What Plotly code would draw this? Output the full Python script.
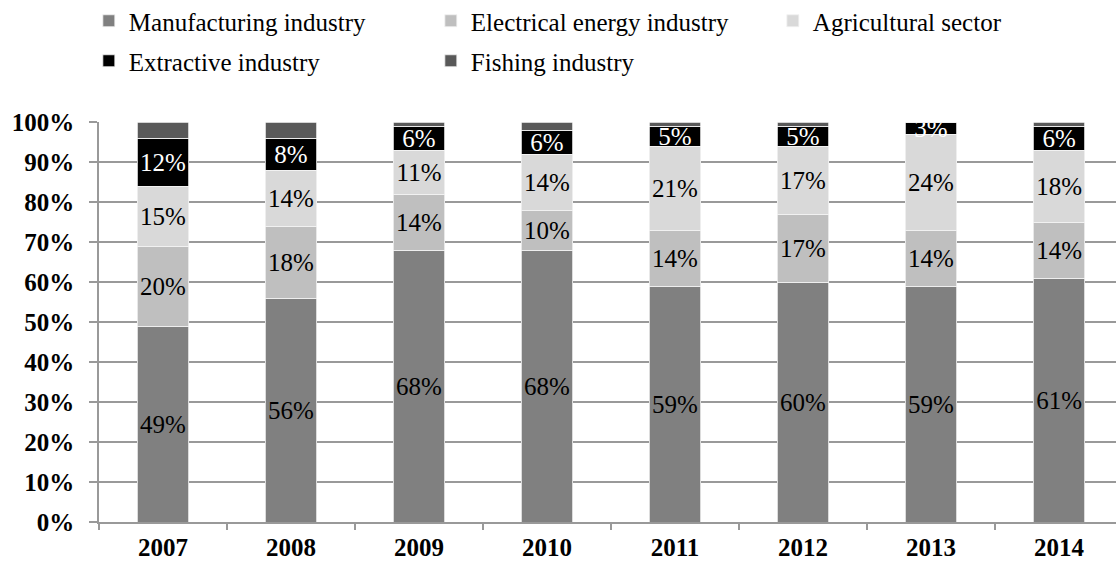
import plotly.graph_objects as go

years = ["2007", "2008", "2009", "2010", "2011", "2012", "2013", "2014"]
manufacturing = [49, 56, 68, 68, 59, 60, 59, 61]
electrical = [20, 18, 14, 10, 14, 17, 14, 14]
agricultural = [15, 14, 11, 14, 21, 17, 24, 18]
extractive = [12, 8, 6, 6, 5, 5, 3, 6]
fishing = [4, 4, 1, 2, 1, 1, 0, 1]

series = [
    ("Manufacturing industry", manufacturing, "#808080", "black", True, "legend"),
    ("Electrical energy industry", electrical, "#bfbfbf", "black", True, "legend"),
    ("Agricultural sector", agricultural, "#d9d9d9", "black", True, "legend"),
    ("Extractive industry", extractive, "#000000", "white", True, "legend2"),
    ("Fishing industry", fishing, "#595959", "white", False, "legend2"),
]

FONT = "Liberation Serif, Times New Roman, serif"

fig = go.Figure()
for name, vals, color, tcolor, show_lbl, leg in series:
    fig.add_trace(go.Bar(
        x=years, y=vals, name=name,
        marker=dict(color=color, line=dict(color="#f2f2f2", width=0.8)),
        text=[f"{v}%" for v in vals] if show_lbl else None,
        textposition="inside" if show_lbl else "none",
        insidetextanchor="middle",
        textangle=0,
        constraintext="none",
        insidetextfont=dict(family=FONT, size=25, color=tcolor),
        legend=leg,
        hoverinfo="x+y+name",
    ))

leg_common = dict(
    orientation="h", xanchor="left", yanchor="top",
    font=dict(family=FONT, size=25, color="black"),
    entrywidth=297, entrywidthmode="pixels",
    bgcolor="rgba(0,0,0,0)", borderwidth=0,
    traceorder="normal", itemclick=False,
)

fig.update_layout(
    barmode="stack",
    bargap=0.6,
    width=1116, height=564,
    margin=dict(l=99, r=0, t=122, b=42, autoexpand=False),
    paper_bgcolor="white", plot_bgcolor="white",
    font=dict(family=FONT, size=25, color="black"),
    legend=dict(x=-0.01, y=1.31, **leg_common),
    legend2=dict(x=-0.01, y=1.21, **leg_common),
    showlegend=True,
)

fig.update_xaxes(
    type="category",
    range=[-0.5, 7.445],
    showgrid=False,
    showline=True, linecolor="#999999", linewidth=1.5,
    ticks="outside", tickson="boundaries", ticklen=6, tickcolor="#999999", tickwidth=1.5,
    tickfont=dict(family=FONT, size=25, color="black", weight="bold"),
    ticklabelstandoff=2,
)
fig.update_yaxes(
    range=[0, 100], dtick=10, ticksuffix="%",
    showgrid=True, gridcolor="#999999", gridwidth=1.5,
    zeroline=False,
    showline=True, linecolor="#999999", linewidth=1.5,
    ticks="outside", ticklen=8, tickcolor="#999999", tickwidth=1.5,
    tickfont=dict(family=FONT, size=25, color="black", weight="bold"),
    ticklabelstandoff=10,
)

fig.write_html("out.html")
